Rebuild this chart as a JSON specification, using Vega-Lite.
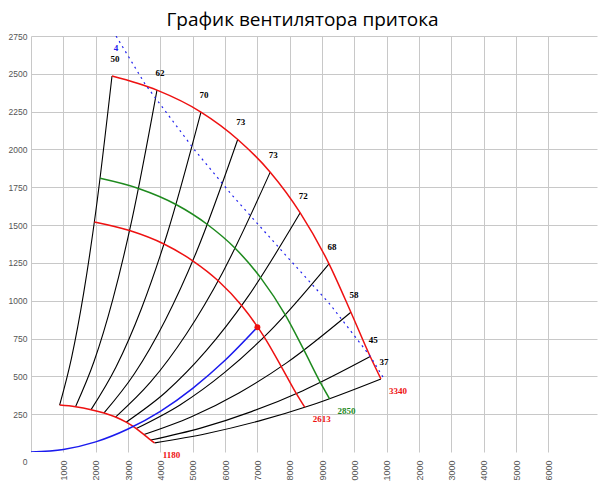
{
  "$schema": "https://vega.github.io/schema/vega-lite/v6.json",
  "autosize": "none",
  "width": 566,
  "height": 416,
  "padding": {"left": 31, "top": 36, "right": 1, "bottom": 29},
  "background": "white",
  "title": {
    "text": "График вентилятора притока",
    "font": "Open Sans",
    "fontSize": 19,
    "fontWeight": "normal",
    "color": "#000",
    "anchor": "middle",
    "frame": "bounds",
    "offset": 2
  },
  "config": {"view": {"stroke": null}},
  "datasets": {
    "rays": [
      {"ray": 1, "q": 885, "p": 310}, {"ray": 1, "q": 1252, "p": 621}, {"ray": 1, "q": 1628, "p": 1050}, {"ray": 1, "q": 2003, "p": 1590}, {"ray": 1, "q": 2504, "p": 2485},
      {"ray": 2, "q": 1376, "p": 299}, {"ray": 2, "q": 1948, "p": 598}, {"ray": 2, "q": 2532, "p": 1011}, {"ray": 2, "q": 3116, "p": 1531}, {"ray": 2, "q": 3895, "p": 2392},
      {"ray": 3, "q": 1857, "p": 280}, {"ray": 3, "q": 2628, "p": 562}, {"ray": 3, "q": 3416, "p": 949}, {"ray": 3, "q": 4204, "p": 1438}, {"ray": 3, "q": 5255, "p": 2247},
      {"ray": 4, "q": 2258, "p": 258}, {"ray": 4, "q": 3196, "p": 517}, {"ray": 4, "q": 4155, "p": 873}, {"ray": 4, "q": 5114, "p": 1322}, {"ray": 4, "q": 6392, "p": 2066},
      {"ray": 5, "q": 2613, "p": 231}, {"ray": 5, "q": 3699, "p": 463}, {"ray": 5, "q": 4808, "p": 782}, {"ray": 5, "q": 5918, "p": 1184}, {"ray": 5, "q": 7397, "p": 1850},
      {"ray": 6, "q": 2941, "p": 197}, {"ray": 6, "q": 4162, "p": 395}, {"ray": 6, "q": 5411, "p": 668}, {"ray": 6, "q": 6659, "p": 1012}, {"ray": 6, "q": 8324, "p": 1581},
      {"ray": 7, "q": 3255, "p": 155}, {"ray": 7, "q": 4607, "p": 311}, {"ray": 7, "q": 5989, "p": 526}, {"ray": 7, "q": 7371, "p": 796}, {"ray": 7, "q": 9214, "p": 1244},
      {"ray": 8, "q": 3494, "p": 115}, {"ray": 8, "q": 4946, "p": 231}, {"ray": 8, "q": 6429, "p": 390}, {"ray": 8, "q": 7913, "p": 591}, {"ray": 8, "q": 9891, "p": 924},
      {"ray": 9, "q": 3705, "p": 79}, {"ray": 9, "q": 5244, "p": 158}, {"ray": 9, "q": 6817, "p": 267}, {"ray": 9, "q": 8390, "p": 404}, {"ray": 9, "q": 10488, "p": 631},
      {"ray": 10, "q": 3822, "p": 60}, {"ray": 10, "q": 5410, "p": 121}, {"ray": 10, "q": 7032, "p": 204}, {"ray": 10, "q": 8655, "p": 309}, {"ray": 10, "q": 10819, "p": 483}
    ],
    "curves": [
      {"rpm": "3340", "q": 2504, "p": 2485}, {"rpm": "3340", "q": 3895, "p": 2392}, {"rpm": "3340", "q": 5255, "p": 2247}, {"rpm": "3340", "q": 6392, "p": 2066}, {"rpm": "3340", "q": 7397, "p": 1850},
      {"rpm": "3340", "q": 8324, "p": 1581}, {"rpm": "3340", "q": 9214, "p": 1244}, {"rpm": "3340", "q": 9891, "p": 924}, {"rpm": "3340", "q": 10488, "p": 631}, {"rpm": "3340", "q": 10819, "p": 483},
      {"rpm": "2850", "q": 2137, "p": 1809}, {"rpm": "2850", "q": 3324, "p": 1742}, {"rpm": "2850", "q": 4484, "p": 1636}, {"rpm": "2850", "q": 5454, "p": 1504}, {"rpm": "2850", "q": 6312, "p": 1347},
      {"rpm": "2850", "q": 7103, "p": 1151}, {"rpm": "2850", "q": 7862, "p": 906}, {"rpm": "2850", "q": 8440, "p": 673}, {"rpm": "2850", "q": 8949, "p": 459}, {"rpm": "2850", "q": 9232, "p": 352},
      {"rpm": "2613", "q": 1959, "p": 1521}, {"rpm": "2613", "q": 3047, "p": 1464}, {"rpm": "2613", "q": 4111, "p": 1375}, {"rpm": "2613", "q": 5000, "p": 1264}, {"rpm": "2613", "q": 5787, "p": 1132},
      {"rpm": "2613", "q": 6512, "p": 968}, {"rpm": "2613", "q": 7208, "p": 761}, {"rpm": "2613", "q": 7738, "p": 565}, {"rpm": "2613", "q": 8205, "p": 386}, {"rpm": "2613", "q": 8464, "p": 296},
      {"rpm": "1180", "q": 885, "p": 310}, {"rpm": "1180", "q": 1376, "p": 299}, {"rpm": "1180", "q": 1857, "p": 280}, {"rpm": "1180", "q": 2258, "p": 258}, {"rpm": "1180", "q": 2613, "p": 231},
      {"rpm": "1180", "q": 2941, "p": 197}, {"rpm": "1180", "q": 3255, "p": 155}, {"rpm": "1180", "q": 3494, "p": 115}, {"rpm": "1180", "q": 3705, "p": 79}, {"rpm": "1180", "q": 3822, "p": 60}
    ],
    "eff": [
      {"q": 2504, "p": 2485, "eff": "50"}, {"q": 3895, "p": 2392, "eff": "62"}, {"q": 5255, "p": 2247, "eff": "70"}, {"q": 6392, "p": 2066, "eff": "73"}, {"q": 7397, "p": 1850, "eff": "73"},
      {"q": 8324, "p": 1581, "eff": "72"}, {"q": 9214, "p": 1244, "eff": "68"}, {"q": 9891, "p": 924, "eff": "58"}, {"q": 10488, "p": 631, "eff": "45"}, {"q": 10819, "p": 483, "eff": "37"}
    ],
    "speeds": [
      {"rpm": "3340", "q": 10819, "p": 483}, {"rpm": "2850", "q": 9232, "p": 352}, {"rpm": "2613", "q": 8464, "p": 296}, {"rpm": "1180", "q": 3822, "p": 60}
    ],
    "system": [
      {"q": 0, "p": 0}, {"q": 1000, "p": 17}, {"q": 2000, "p": 67}, {"q": 3000, "p": 152}, {"q": 4000, "p": 269},
      {"q": 5000, "p": 421}, {"q": 6000, "p": 606}, {"q": 7000, "p": 825}
    ],
    "op": [{"q": 7000, "p": 825}],
    "dotted": [
      {"q": 2630, "p": 2750}, {"q": 3533, "p": 2430}, {"q": 5026, "p": 2005}, {"q": 6244, "p": 1691},
      {"q": 7808, "p": 1317}, {"q": 9251, "p": 975}, {"q": 10488, "p": 633}, {"q": 10930, "p": 479}
    ],
    "mark4": [{"q": 2630, "p": 2668, "t": "4"}]
  },
  "encoding": {
    "x": {
      "field": "q", "type": "quantitative",
      "scale": {"domain": [0, 17500], "nice": false, "zero": false},
      "axis": {
        "title": null,
        "values": [0, 1000, 2000, 3000, 4000, 5000, 6000, 7000, 8000, 9000, 10000, 11000, 12000, 13000, 14000, 15000, 16000],
        "format": "d",
        "labelExpr": "datum.value == 0 ? '' : datum.label",
        "labelAngle": -90,
        "labelAlign": "right",
        "labelBaseline": "middle",
        "labelPadding": 8,
        "labelFont": "Liberation Sans",
        "labelFontSize": 9,
        "labelColor": "#555",
        "labelOverlap": false,
        "labelBound": false,
        "ticks": false,
        "domain": false,
        "grid": true,
        "gridColor": "#c8c8c8",
        "gridWidth": 1
      }
    },
    "y": {
      "field": "p", "type": "quantitative",
      "scale": {"domain": [0, 2750], "nice": false, "zero": false},
      "axis": {
        "title": null,
        "values": [0, 250, 500, 750, 1000, 1250, 1500, 1750, 2000, 2250, 2500, 2750],
        "format": "d",
        "labelPadding": 4,
        "labelFont": "Liberation Sans",
        "labelFontSize": 8.5,
        "labelColor": "#555",
        "labelOverlap": false,
        "labelOffset": {"condition": {"test": "datum.value == 0", "value": 9}, "value": 0},
        "ticks": false,
        "domain": false,
        "grid": true,
        "gridColor": "#c8c8c8",
        "gridOpacity": {"condition": {"test": "datum.value == 0", "value": 0}, "value": 1},
        "gridWidth": 1
      }
    }
  },
  "layer": [
    {
      "data": {"name": "rays"},
      "mark": {"type": "line", "interpolate": "monotone", "color": "#000", "strokeWidth": 1.1, "clip": true},
      "encoding": {"detail": {"field": "ray", "type": "nominal"}}
    },
    {
      "data": {"name": "curves"},
      "mark": {"type": "line", "interpolate": "monotone", "strokeWidth": 1.5, "clip": true},
      "encoding": {
        "color": {"field": "rpm", "type": "nominal", "legend": null,
          "scale": {"domain": ["1180", "2613", "2850", "3340"], "range": ["#ee1111", "#ee1111", "#1e8a1e", "#ee1111"]}}
      }
    },
    {
      "data": {"name": "dotted"},
      "mark": {"type": "line", "color": "#2222ee", "strokeWidth": 1.2, "strokeDash": [2, 4], "clip": true},
      "encoding": {}
    },
    {
      "data": {"name": "system"},
      "mark": {"type": "line", "interpolate": "monotone", "color": "#1a1aee", "strokeWidth": 1.5, "clip": true},
      "encoding": {}
    },
    {
      "data": {"name": "op"},
      "mark": {"type": "point", "shape": "circle", "filled": true, "color": "#ee1111", "size": 35, "opacity": 1},
      "encoding": {}
    },
    {
      "data": {"name": "eff"},
      "mark": {"type": "text", "font": "Liberation Serif", "fontSize": 9, "fontWeight": "bold", "color": "#000", "dx": 3, "dy": -17, "align": "center", "baseline": "middle"},
      "encoding": {"text": {"field": "eff", "type": "nominal"}}
    },
    {
      "data": {"name": "speeds"},
      "mark": {"type": "text", "font": "Liberation Serif", "fontSize": 9, "fontWeight": "bold", "dx": 17, "dy": 12, "align": "center", "baseline": "middle"},
      "encoding": {
        "text": {"field": "rpm", "type": "nominal"},
        "color": {"field": "rpm", "type": "nominal", "legend": null,
          "scale": {"domain": ["1180", "2613", "2850", "3340"], "range": ["#ee1111", "#ee1111", "#1e8a1e", "#ee1111"]}}
      }
    },
    {
      "data": {"name": "mark4"},
      "mark": {"type": "text", "font": "Liberation Serif", "fontSize": 9, "fontWeight": "bold", "color": "#2222ee", "align": "center", "baseline": "middle"},
      "encoding": {"text": {"field": "t", "type": "nominal"}}
    }
  ]
}
